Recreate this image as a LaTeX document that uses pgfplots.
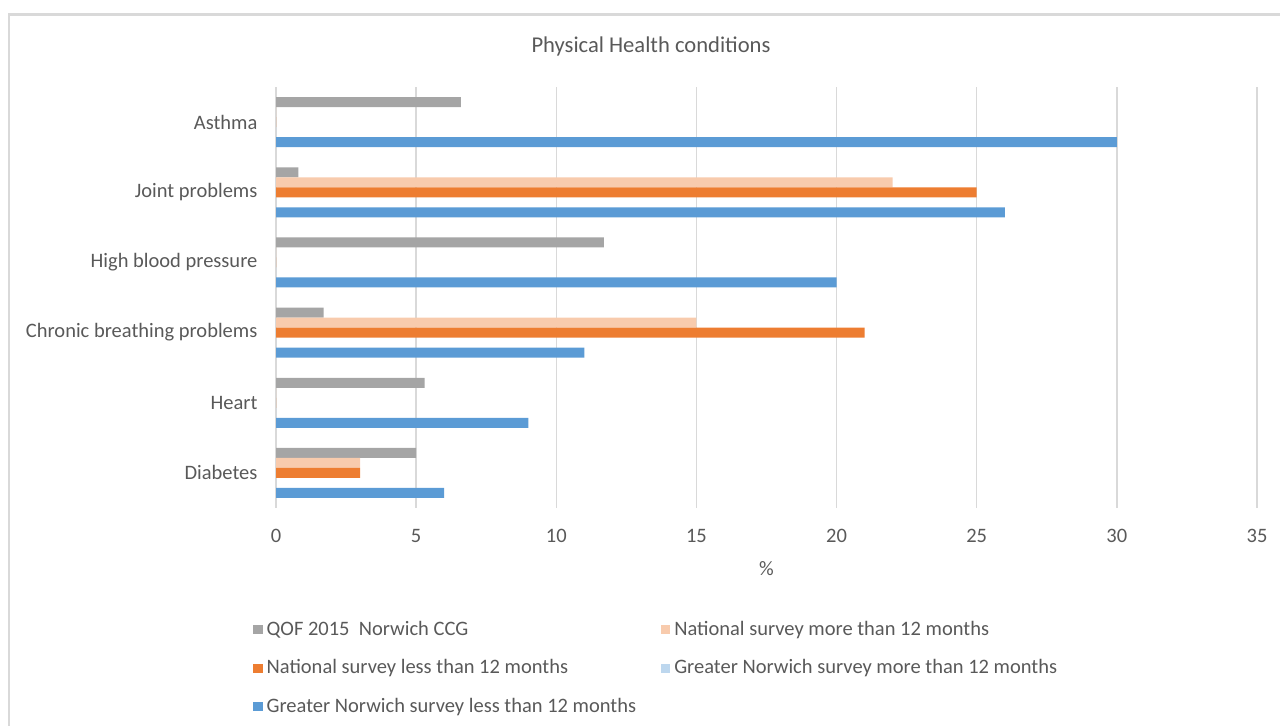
\documentclass[border=0pt]{standalone}
\usepackage{pgfplots}
\pgfplotsset{compat=1.18}
\usepackage{fontspec}
\setmainfont{Carlito}
\definecolor{cgrey}{HTML}{A5A5A5}
\definecolor{clorange}{HTML}{F8CBAD}
\definecolor{corange}{HTML}{ED7D31}
\definecolor{clblue}{HTML}{BDD7EE}
\definecolor{cblue}{HTML}{5B9BD5}
\definecolor{ctext}{HTML}{595959}
\definecolor{cgrid}{HTML}{D9D9D9}
\begin{document}
\begin{tikzpicture}
\path[use as bounding box] (0pt,0pt) rectangle (640pt,-362.5pt);
\draw[cgrid, line width=1.2pt] (4.5pt,-366pt) -- (4.5pt,-7.25pt) -- (645pt,-7.25pt);
\node[text=ctext, font=\fontsize{11.3pt}{13pt}\selectfont] at (325.5pt,-23pt) {Physical Health conditions};
\begin{axis}[
  at={(138pt,-254pt)}, anchor=south west,
  scale only axis, width=490.5pt, height=210.5pt,
  xbar, bar width=5pt,
  xmin=0, xmax=35, ymin=-0.5, ymax=5.5,
  y dir=reverse,
  axis line style={draw=none},
  tick style={draw=none},
  xtick={0,5,...,35},
  ytick={0,1,2,3,4,5},
  yticklabels={Asthma,Joint problems,High blood pressure,Chronic breathing problems,Heart,Diabetes},
  xmajorgrids, grid style={cgrid, line width=0.7pt},
  ticklabel style={text=ctext, font=\fontsize{10.25pt}{12pt}\selectfont},
  /pgf/number format/assume math mode=true,
  xticklabel style={yshift=-7pt},
  yticklabel style={xshift=-1.5pt},
  xlabel={\%}, xlabel style={text=ctext, font=\fontsize{10.25pt}{12pt}\selectfont, yshift=-2.5pt},
  legend columns=2,
  legend cell align=left,
  legend style={draw=none, fill=none, at={(-0.023,-0.259)}, anchor=north west,
    font=\fontsize{10.25pt}{12pt}\selectfont, text=ctext,
    /tikz/every even column/.append style={column sep=10.5pt},
    row sep=6.6pt, inner sep=0pt, outer sep=0pt},
  legend image code/.code={\fill[#1] (0pt,-2.3pt) rectangle (4.6pt,2.3pt);},
]
\addplot[fill=cgrey, draw=none, bar shift=10pt] coordinates {(6.6,0) (0.8,1) (11.7,2) (1.7,3) (5.3,4) (5,5)};
\addplot[fill=clorange, draw=none, bar shift=5pt] coordinates {(0,0) (22,1) (0,2) (15,3) (0,4) (3,5)};
\addplot[fill=corange, draw=none, bar shift=0pt] coordinates {(0,0) (25,1) (0,2) (21,3) (0,4) (3,5)};
\addplot[fill=clblue, draw=none, bar shift=-5pt] coordinates {(0,0) (0,1) (0,2) (0,3) (0,4) (0,5)};
\addplot[fill=cblue, draw=none, bar shift=-10pt] coordinates {(30,0) (26,1) (20,2) (11,3) (9,4) (6,5)};
\legend{QOF 2015\ \ Norwich CCG,National survey more than 12 months,National survey less than 12 months,Greater Norwich survey more than 12 months,Greater Norwich survey less than 12 months}
\end{axis}
\end{tikzpicture}
\end{document}
